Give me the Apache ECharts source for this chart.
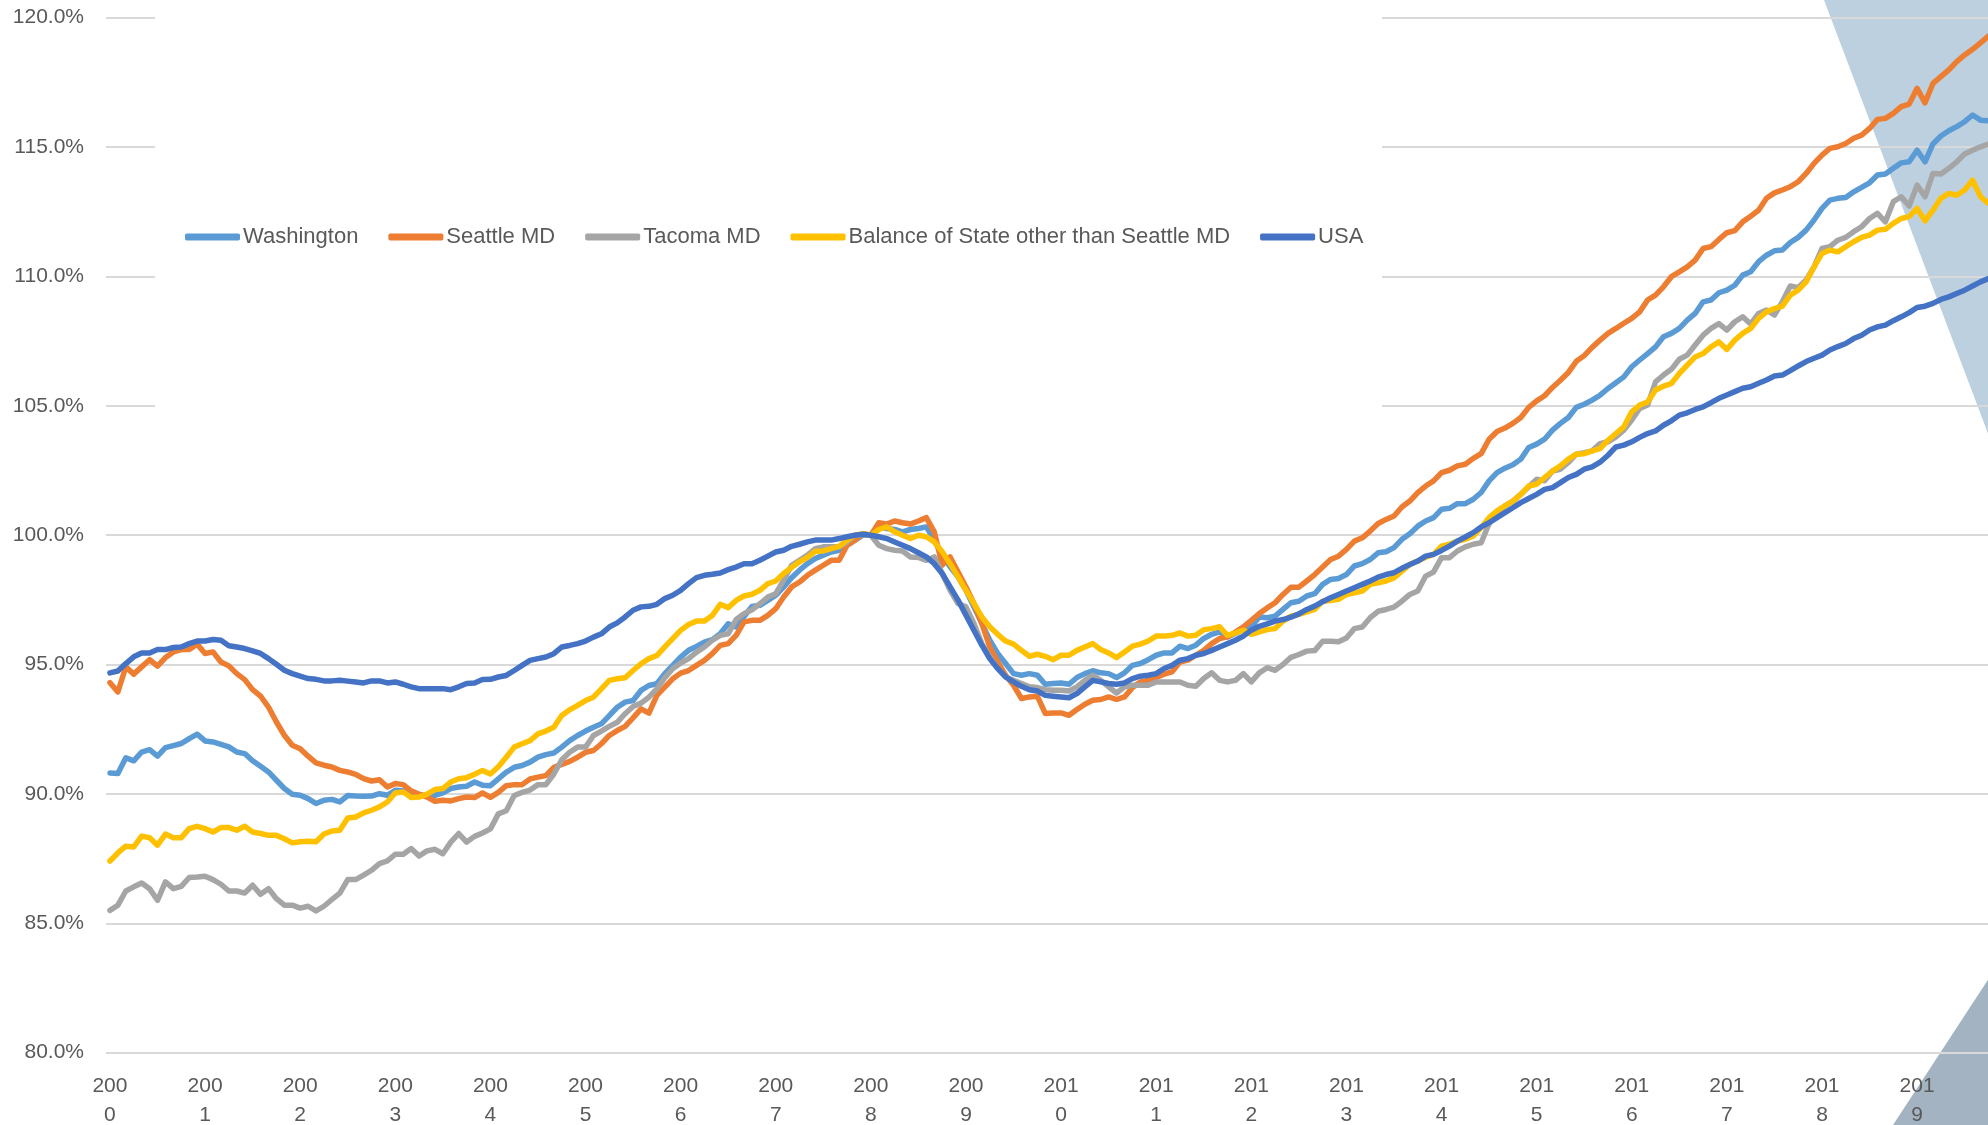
<!DOCTYPE html>
<html>
<head>
<meta charset="UTF-8">
<title>Housing index</title>
<script type="text/javascript" src="https://cdn.jsdelivr.net/npm/echarts/dist/echarts.min.js"></script>
<style>
  body{margin:0;background:#fff}
</style>
</head>
<body>
<div id="main" style="width:1988px;height:1125px"></div>
<script type="text/javascript">
// tick labels (one per January)
var years = ['2000','2001','2002','2003','2004','2005','2006','2007','2008','2009',
             '2010','2011','2012','2013','2014','2015','2016','2017','2018','2019'];

// monthly values, % of Jan 2008
var washington = [
  90.81, 90.79, 91.40, 91.28, 91.62, 91.71, 91.46, 91.79, 91.87, 91.95, 92.14, 92.31,
  92.05, 92.01, 91.92, 91.82, 91.62, 91.56, 91.28, 91.07, 90.85, 90.53, 90.21, 89.99,
  89.95, 89.82, 89.63, 89.76, 89.79, 89.69, 89.94, 89.92, 89.91, 89.92, 90.01, 89.95,
  90.14, 90.12, 89.95, 89.95, 89.95, 89.95, 90.04, 90.21, 90.27, 90.30, 90.46, 90.34,
  90.32, 90.58, 90.84, 91.03, 91.10, 91.23, 91.42, 91.52, 91.58, 91.81, 92.06, 92.26,
  92.43, 92.58, 92.71, 93.03, 93.35, 93.55, 93.61, 94.00, 94.19, 94.26, 94.65, 94.97,
  95.29, 95.55, 95.70, 95.87, 95.96, 96.19, 96.58, 96.45, 96.86, 97.25, 97.29, 97.48,
  97.68, 98.00, 98.36, 98.65, 98.90, 99.10, 99.23, 99.35, 99.42, 99.61, 99.81, 100.00,
  100.00, 100.32, 100.26, 100.22, 100.13, 100.22, 100.26, 100.32, 99.81, 99.23, 98.78, 98.39,
  97.87, 97.23, 96.59, 95.94, 95.43, 95.04, 94.65, 94.59, 94.65, 94.59, 94.24, 94.27,
  94.29, 94.24, 94.50, 94.65, 94.76, 94.68, 94.65, 94.50, 94.68, 94.97, 95.04, 95.19,
  95.36, 95.45, 95.45, 95.71, 95.62, 95.75, 96.01, 96.17, 96.26, 96.07, 96.20, 96.35,
  96.46, 96.84, 96.81, 96.87, 97.13, 97.39, 97.45, 97.65, 97.74, 98.10, 98.29, 98.33,
  98.48, 98.81, 98.90, 99.06, 99.32, 99.36, 99.52, 99.84, 100.06, 100.35, 100.55, 100.68,
  101.00, 101.04, 101.22, 101.22, 101.39, 101.65, 102.10, 102.42, 102.59, 102.72, 102.94, 103.39,
  103.52, 103.71, 104.06, 104.32, 104.55, 104.94, 105.06, 105.22, 105.41, 105.67, 105.89, 106.12,
  106.51, 106.77, 107.02, 107.28, 107.67, 107.80, 107.99, 108.31, 108.57, 109.02, 109.09, 109.37,
  109.47, 109.66, 110.05, 110.18, 110.57, 110.82, 110.99, 111.02, 111.31, 111.51, 111.79, 112.18,
  112.63, 112.95, 113.02, 113.05, 113.27, 113.44, 113.62, 113.92, 113.96, 114.18, 114.39, 114.43,
  114.88, 114.43, 115.12, 115.43, 115.63, 115.79, 115.98, 116.24, 116.04, 116.02
];

var seattle = [
  94.30, 93.94, 94.91, 94.63, 94.91, 95.19, 94.94, 95.27, 95.49, 95.58, 95.58, 95.79,
  95.43, 95.49, 95.10, 94.95, 94.65, 94.42, 94.03, 93.78, 93.36, 92.78, 92.27, 91.88,
  91.75, 91.46, 91.20, 91.11, 91.04, 90.91, 90.85, 90.76, 90.59, 90.50, 90.55, 90.27,
  90.40, 90.36, 90.12, 89.99, 89.88, 89.72, 89.76, 89.73, 89.82, 89.88, 89.86, 90.04,
  89.87, 90.06, 90.32, 90.36, 90.36, 90.58, 90.65, 90.71, 91.03, 91.14, 91.26, 91.42,
  91.61, 91.68, 91.94, 92.26, 92.45, 92.61, 92.94, 93.29, 93.12, 93.81, 94.13, 94.45,
  94.67, 94.77, 94.97, 95.16, 95.42, 95.74, 95.81, 96.13, 96.65, 96.71, 96.71, 96.90,
  97.16, 97.61, 98.00, 98.19, 98.45, 98.65, 98.84, 99.03, 99.03, 99.61, 99.81, 100.06,
  100.00, 100.48, 100.43, 100.55, 100.48, 100.43, 100.55, 100.68, 100.13, 98.84, 99.16, 98.58,
  98.00, 97.36, 96.59, 95.68, 95.10, 94.59, 94.20, 93.69, 93.75, 93.78, 93.11, 93.13,
  93.13, 93.04, 93.26, 93.47, 93.62, 93.65, 93.75, 93.65, 93.75, 94.11, 94.33, 94.39,
  94.50, 94.63, 94.72, 95.10, 95.17, 95.36, 95.55, 95.81, 96.01, 96.07, 96.26, 96.46,
  96.71, 96.97, 97.19, 97.39, 97.71, 97.99, 97.99, 98.23, 98.48, 98.77, 99.06, 99.19,
  99.45, 99.77, 99.90, 100.16, 100.45, 100.61, 100.74, 101.09, 101.32, 101.65, 101.90, 102.10,
  102.42, 102.51, 102.68, 102.74, 102.97, 103.15, 103.71, 104.01, 104.14, 104.32, 104.55, 104.94,
  105.19, 105.39, 105.71, 105.99, 106.29, 106.72, 106.94, 107.26, 107.54, 107.80, 107.99, 108.19,
  108.38, 108.63, 109.09, 109.28, 109.60, 109.99, 110.18, 110.37, 110.63, 111.08, 111.15, 111.43,
  111.69, 111.77, 112.11, 112.33, 112.56, 113.02, 113.23, 113.34, 113.47, 113.66, 113.98, 114.37,
  114.69, 114.95, 115.01, 115.14, 115.34, 115.46, 115.72, 116.07, 116.11, 116.30, 116.56, 116.66,
  117.27, 116.71, 117.46, 117.72, 117.98, 118.30, 118.56, 118.78, 119.03, 119.29
];

var tacoma = [
  85.50, 85.70, 86.25, 86.41, 86.56, 86.34, 85.89, 86.60, 86.34, 86.43, 86.77, 86.79,
  86.82, 86.69, 86.51, 86.25, 86.25, 86.17, 86.47, 86.12, 86.34, 85.95, 85.70, 85.70,
  85.59, 85.66, 85.48, 85.66, 85.92, 86.17, 86.69, 86.69, 86.86, 87.05, 87.31, 87.41,
  87.67, 87.67, 87.89, 87.60, 87.80, 87.86, 87.69, 88.14, 88.47, 88.14, 88.36, 88.49,
  88.65, 89.23, 89.35, 89.94, 90.06, 90.15, 90.36, 90.36, 90.77, 91.32, 91.61, 91.81,
  91.81, 92.26, 92.43, 92.61, 92.77, 93.10, 93.38, 93.51, 93.74, 94.06, 94.49, 94.84,
  95.06, 95.23, 95.48, 95.68, 95.94, 96.13, 96.19, 96.74, 96.97, 97.12, 97.35, 97.61,
  97.74, 98.26, 98.84, 99.03, 99.23, 99.48, 99.55, 99.55, 99.55, 99.74, 100.00, 100.00,
  100.00, 99.61, 99.48, 99.42, 99.39, 99.16, 99.14, 99.03, 99.16, 98.52, 97.87, 97.36,
  97.23, 96.59, 95.81, 95.30, 94.85, 94.52, 94.39, 94.27, 94.14, 94.11, 94.03, 94.01,
  94.01, 93.98, 94.14, 94.39, 94.59, 94.39, 94.14, 93.90, 94.14, 94.20, 94.20, 94.20,
  94.33, 94.33, 94.33, 94.33, 94.20, 94.16, 94.46, 94.68, 94.39, 94.33, 94.39, 94.65,
  94.33, 94.68, 94.88, 94.78, 95.00, 95.28, 95.39, 95.52, 95.54, 95.90, 95.90, 95.88,
  96.03, 96.39, 96.45, 96.81, 97.06, 97.13, 97.22, 97.45, 97.71, 97.84, 98.42, 98.58,
  99.13, 99.13, 99.39, 99.55, 99.65, 99.71, 100.45, 100.87, 101.13, 101.32, 101.58, 101.87,
  102.16, 102.10, 102.48, 102.55, 102.81, 103.13, 103.19, 103.26, 103.54, 103.61, 103.80, 104.06,
  104.45, 104.90, 105.03, 105.93, 106.19, 106.41, 106.80, 106.96, 107.35, 107.73, 107.99, 108.18,
  107.93, 108.25, 108.44, 108.16, 108.57, 108.70, 108.51, 109.02, 109.63, 109.57, 109.86, 110.37,
  111.08, 111.15, 111.40, 111.51, 111.73, 111.92, 112.24, 112.44, 112.11, 112.89, 113.08, 112.72,
  113.53, 113.08, 113.98, 113.96, 114.18, 114.43, 114.73, 114.88, 115.01, 115.12
];

var balance = [
  87.41, 87.72, 87.98, 87.95, 88.37, 88.31, 88.02, 88.45, 88.31, 88.31, 88.66, 88.75,
  88.66, 88.53, 88.70, 88.70, 88.60, 88.75, 88.53, 88.47, 88.40, 88.40, 88.27, 88.11,
  88.15, 88.17, 88.15, 88.45, 88.57, 88.60, 89.07, 89.11, 89.27, 89.37, 89.50, 89.69,
  90.04, 90.08, 89.86, 89.88, 89.99, 90.17, 90.21, 90.46, 90.59, 90.63, 90.76, 90.91,
  90.77, 91.05, 91.42, 91.81, 91.94, 92.06, 92.32, 92.43, 92.58, 93.03, 93.25, 93.42,
  93.61, 93.74, 94.06, 94.39, 94.45, 94.49, 94.77, 95.03, 95.23, 95.35, 95.68, 96.00,
  96.32, 96.55, 96.68, 96.68, 96.90, 97.33, 97.20, 97.48, 97.65, 97.72, 97.87, 98.13,
  98.23, 98.52, 98.75, 98.97, 99.14, 99.38, 99.39, 99.48, 99.57, 99.81, 100.00, 100.06,
  100.00, 100.22, 100.32, 100.13, 100.00, 99.87, 100.00, 99.94, 99.74, 99.36, 98.90, 98.39,
  97.87, 97.36, 96.84, 96.46, 96.17, 95.91, 95.79, 95.55, 95.32, 95.40, 95.32, 95.19,
  95.36, 95.36, 95.55, 95.68, 95.81, 95.58, 95.45, 95.27, 95.49, 95.71, 95.79, 95.91,
  96.10, 96.10, 96.13, 96.22, 96.10, 96.13, 96.35, 96.39, 96.46, 96.13, 96.22, 96.33,
  96.17, 96.26, 96.35, 96.39, 96.68, 96.87, 96.94, 97.04, 97.13, 97.45, 97.48, 97.52,
  97.71, 97.77, 97.84, 98.10, 98.16, 98.23, 98.35, 98.61, 98.87, 99.00, 99.15, 99.26,
  99.58, 99.65, 99.77, 99.84, 99.97, 100.29, 100.68, 100.94, 101.13, 101.32, 101.58, 101.90,
  101.97, 102.23, 102.48, 102.68, 102.94, 103.13, 103.15, 103.26, 103.35, 103.67, 103.93, 104.19,
  104.77, 105.03, 105.15, 105.61, 105.76, 105.86, 106.25, 106.57, 106.89, 107.02, 107.28, 107.47,
  107.18, 107.54, 107.80, 107.99, 108.38, 108.63, 108.76, 108.85, 109.28, 109.47, 109.79, 110.37,
  110.89, 111.02, 110.95, 111.15, 111.34, 111.51, 111.60, 111.79, 111.82, 112.05, 112.24, 112.31,
  112.63, 112.15, 112.56, 113.02, 113.21, 113.14, 113.34, 113.72, 113.08, 112.82
];

var usa = [
  94.68, 94.75, 95.04, 95.30, 95.45, 95.45, 95.58, 95.58, 95.66, 95.68, 95.81, 95.91,
  95.91, 95.97, 95.94, 95.73, 95.68, 95.62, 95.53, 95.43, 95.23, 95.01, 94.78, 94.65,
  94.55, 94.46, 94.43, 94.37, 94.37, 94.39, 94.36, 94.33, 94.29, 94.37, 94.37, 94.29,
  94.33, 94.24, 94.14, 94.07, 94.07, 94.07, 94.07, 94.03, 94.14, 94.27, 94.29, 94.42,
  94.43, 94.52, 94.58, 94.77, 94.97, 95.16, 95.23, 95.29, 95.42, 95.68, 95.74, 95.81,
  95.91, 96.06, 96.19, 96.45, 96.61, 96.84, 97.10, 97.23, 97.25, 97.33, 97.55, 97.68,
  97.87, 98.13, 98.36, 98.45, 98.49, 98.54, 98.67, 98.77, 98.90, 98.90, 99.03, 99.19,
  99.35, 99.42, 99.57, 99.65, 99.74, 99.81, 99.81, 99.81, 99.87, 99.94, 100.00, 100.04,
  100.00, 99.94, 99.87, 99.74, 99.61, 99.48, 99.32, 99.16, 98.90, 98.52, 98.00, 97.49,
  96.91, 96.33, 95.75, 95.23, 94.85, 94.52, 94.33, 94.16, 94.03, 93.98, 93.81, 93.78,
  93.75, 93.72, 93.88, 94.14, 94.39, 94.33, 94.27, 94.24, 94.29, 94.46, 94.55, 94.59,
  94.65, 94.85, 94.97, 95.17, 95.23, 95.36, 95.43, 95.55, 95.68, 95.81, 95.94, 96.10,
  96.33, 96.48, 96.57, 96.68, 96.74, 96.83, 96.96, 97.13, 97.26, 97.43, 97.58, 97.71,
  97.84, 97.97, 98.10, 98.23, 98.38, 98.48, 98.55, 98.72, 98.87, 99.00, 99.19, 99.26,
  99.41, 99.58, 99.77, 99.93, 100.10, 100.32, 100.48, 100.68, 100.87, 101.06, 101.26, 101.42,
  101.58, 101.77, 101.84, 102.03, 102.23, 102.35, 102.55, 102.64, 102.82, 103.09, 103.41, 103.48,
  103.61, 103.78, 103.93, 104.03, 104.25, 104.42, 104.64, 104.73, 104.86, 104.96, 105.12, 105.29,
  105.42, 105.55, 105.68, 105.74, 105.87, 106.00, 106.15, 106.19, 106.36, 106.54, 106.71, 106.84,
  106.96, 107.16, 107.29, 107.41, 107.60, 107.73, 107.93, 108.05, 108.12, 108.29, 108.44, 108.60,
  108.80, 108.85, 108.96, 109.11, 109.21, 109.34, 109.47, 109.63, 109.79, 109.92
];

var seriesNames = ['Washington', 'Seattle MD', 'Tacoma MD', 'Balance of State other than Seattle MD', 'USA'];
var seriesColors = ['#5B9BD5', '#ED7D31', '#A5A5A5', '#FFC000', '#4472C4'];
var seriesData = [washington, seattle, tacoma, balance, usa];

// month categories built from the years
var months = [];
years.forEach(function (y) {
  for (var m = 1; m <= 12; m++) {
    months.push(y + '-' + (m < 10 ? '0' + m : m));
  }
});
months = months.slice(0, usa.length);

var textColor = '#595959';
var fontFam = '"Liberation Sans", Arial, sans-serif';

var myChart = echarts.init(document.getElementById('main'));

var option = {
  animation: false,
  backgroundColor: '#fff',
  grid: {
    left: 106,
    top: 17.7,
    width: 1886.4,
    height: 1035,
    containLabel: false,
    outerBoundsMode: 'none'
  },
  legend: {
    data: seriesNames,
    left: 185,
    top: 226,
    padding: 0,
    itemGap: 30,
    itemWidth: 55,
    itemHeight: 7,
    icon: 'roundRect',
    textStyle: { color: textColor, fontSize: 22, fontFamily: fontFam, padding: [0, 0, 0, -2] }
  },
  graphic: [
    { type: 'polygon', z: 0, silent: true,
      shape: { points: [[1824, 0], [1995, 0], [1995, 452]] },
      style: { fill: '#BDD0DF' } },
    { type: 'polygon', z: 0, silent: true,
      shape: { points: [[1893, 1125], [1995, 1125], [1995, 969]] },
      style: { fill: '#A3B3C1' } },
    { type: 'rect', z: 1.5, silent: true,
      shape: { x: 155, y: 0, width: 1227, height: 470 },
      style: { fill: '#fff' } }
  ],
  xAxis: {
    type: 'category',
    z: 1,
    data: months,
    boundaryGap: true,
    axisLine: { show: false },
    axisTick: { show: false },
    splitLine: { show: false },
    axisLabel: {
      interval: function (idx) { return idx % 12 === 0; },
      formatter: function (v) { return v.slice(0, 3) + '\n' + v.slice(3, 4); },
      color: textColor,
      fontSize: 21,
      lineHeight: 29,
      fontFamily: fontFam,
      margin: 19
    }
  },
  yAxis: {
    type: 'value',
    z: 1,
    min: 80,
    max: 120,
    interval: 5,
    axisLine: { show: false },
    axisTick: { show: false },
    splitLine: { lineStyle: { color: '#D9D9D9', width: 2 } },
    axisLabel: {
      formatter: function (v) { return v.toFixed(1) + '%'; },
      color: textColor,
      fontSize: 21,
      fontFamily: fontFam,
      margin: 22
    }
  },
  series: seriesNames.map(function (name, k) {
    return {
      name: name,
      type: 'line',
      data: seriesData[k],
      symbol: 'none',
      color: seriesColors[k],
      lineStyle: { width: 5.5, color: seriesColors[k], cap: 'round', join: 'round' },
      z: 2 + k * 0.1
    };
  })
};

myChart.setOption(option);
</script>
</body>
</html>
